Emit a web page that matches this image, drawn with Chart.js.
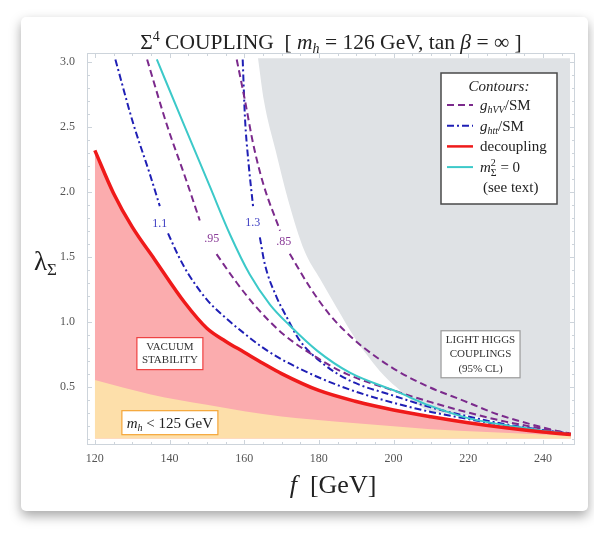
<!DOCTYPE html>
<html>
<head>
<meta charset="utf-8">
<script src="https://cdn.jsdelivr.net/npm/chart.js@4.4.0/dist/chart.umd.min.js"></script>
<style>
  html, body { margin: 0; padding: 0; background: #fff; overflow: hidden; }
  #tarjeta { position: absolute; left: 21px; top: 17px; width: 567px; height: 494px; background: #fff; border-radius: 5px; box-shadow: 0 5px 12px rgba(0,0,0,0.35); }
  #grafico { position: absolute; left: 0; top: 0; }
</style>
</head>
<body>
<div id="tarjeta"></div>
<canvas id="grafico" width="594" height="537"></canvas>
<script>
// ticks de los ejes
const ticksF = [120, 140, 160, 180, 200, 220, 240];
const ticksLambda = [0.5, 1.0, 1.5, 2.0, 2.5, 3.0];

// curva de decoupling (roja)
const fDecoupling = [120, 125, 130, 136, 144, 150, 155, 160, 165, 170, 180, 190, 200, 210, 220, 230, 240, 247.5];
const lambdaDecoupling = [2.32, 1.99, 1.73, 1.48, 1.15, 0.95, 0.85, 0.765, 0.68, 0.60, 0.47, 0.385, 0.32, 0.268, 0.222, 0.183, 0.15, 0.13];

// borde superior de la zona m_h < 125 GeV
const fMh = [120, 135, 150, 160, 170, 185, 200, 210, 225, 237, 247.5];
const lambdaMh = [0.55, 0.44, 0.36, 0.31, 0.27, 0.23, 0.195, 0.172, 0.15, 0.135, 0.12];

// borde de la zona excluida (light higgs couplings)
const fExcluido = [163.7, 165.3, 168.4, 171.8, 176.1, 180.3, 184.7, 190.1, 193, 196.3, 200.8, 206.2, 210, 220, 230, 240, 247.3];
const lambdaExcluido = [3.03, 2.70, 2.32, 1.934, 1.548, 1.33, 1.111, 0.854, 0.74, 0.621, 0.494, 0.366, 0.31, 0.28, 0.22, 0.17, 0.14];

// m_sigma^2 = 0 (cian)
const fMsigma = [136.6, 143.6, 150.8, 156.2, 161.5, 166.9, 172.2, 179.5, 188.3, 200.9, 209.7, 220.5, 236.5, 247.5];
const lambdaMsigma = [3.02, 2.535, 2.042, 1.672, 1.363, 1.132, 0.97, 0.777, 0.607, 0.461, 0.353, 0.253, 0.176, 0.132];

// g_hVV/SM = .95 y .85 (violeta, con hueco para la etiqueta)
const fHVV95 = [134, 139.2, 144.5, 148.1, 150.3, 152.6, 158, 163.3, 170.4, 179.4, 187.4, 200, 210, 220, 230, 240, 247];
const lambdaHVV95 = [3.02, 2.525, 2.088, 1.78, null, 1.52, 1.30, 1.11, 0.906, 0.725, 0.598, 0.47, 0.38, 0.30, 0.23, 0.175, 0.14];
const fHVV85 = [158, 160.2, 162.4, 165.1, 169.6, 171, 172.2, 177.6, 183, 188, 192, 200.8, 209.7, 218.7, 227.6, 236.5, 245.5, 247.5];
const lambdaHVV85 = [3.02, 2.705, 2.371, 2.062, 1.702, null, 1.523, 1.265, 1.05, 0.90, 0.80, 0.625, 0.494, 0.392, 0.289, 0.212, 0.147, 0.138];

// g_htt/SM = 1.1 y 1.3 (azul)
const fHtt11 = [125.5, 130.3, 134.7, 137.4, 138.5, 139.6, 142.5, 145, 150, 155, 160, 165, 170, 180, 190, 200, 210, 220, 230, 240, 247];
const lambdaHtt11 = [3.02, 2.525, 2.14, 1.89, null, 1.68, 1.50, 1.37, 1.17, 1.03, 0.91, 0.80, 0.71, 0.57, 0.46, 0.375, 0.305, 0.25, 0.2, 0.16, 0.135];
const fHtt13 = [159.6, 160.2, 161.1, 162.4, 163.3, 164.2, 165.5, 168.7, 171.4, 174.9, 181.2, 188.3, 200, 210, 220, 230, 240, 247];
const lambdaHtt13 = [3.02, 2.576, 2.242, 1.882, null, 1.65, 1.446, 1.188, 1.034, 0.854, 0.675, 0.546, 0.43, 0.34, 0.27, 0.21, 0.165, 0.14];

const ROJO = '#ef1a1a';
const CIAN = '#3cc9c9';
const VIOLETA = '#7b2a8c';
const AZUL = '#1f1fb5';

function puntos(fs, ls) {
  return fs.map((f, i) => ({ x: f, y: ls[i] }));
}

function fuente(tam, italica) {
  return (italica ? 'italic ' : '') + tam + 'px "Liberation Serif", "DejaVu Serif", serif';
}

// tramos: [texto, tam, italica, dy, sinAvance]
function dibujarTramos(ctx, tramos, x, y, alineacion) {
  let ancho = 0;
  tramos.forEach(t => {
    ctx.font = fuente(t[1], t[2]);
    if (!t[4]) ancho += ctx.measureText(t[0]).width;
  });
  let xi = alineacion === 'center' ? x - ancho / 2 : (alineacion === 'right' ? x - ancho : x);
  ctx.textAlign = 'left';
  ctx.textBaseline = 'alphabetic';
  tramos.forEach(t => {
    ctx.font = fuente(t[1], t[2]);
    ctx.fillText(t[0], xi, y + (t[3] || 0));
    if (!t[4]) xi += ctx.measureText(t[0]).width;
  });
}

// etiquetas de los contornos, en coordenadas de datos
const etiquetasContorno = [
  { texto: '1.1', f: 137.4, l: 1.756, color: '#3d3dc2' },
  { texto: '.95', f: 151.3, l: 1.641, color: '#8a3c98' },
  { texto: '1.3', f: 162.3, l: 1.764, color: '#3d3dc2' },
  { texto: '.85', f: 170.6, l: 1.618, color: '#8a3c98' }
];

const cajas = [
  { f: 140.1, l: 0.754, ancho: 66, alto: 32, borde: '#ee4040', lineas: ['VACUUM', 'STABILITY'], tam: 11, interlinea: 13.3 },
  { f: 223.3, l: 0.749, ancho: 79, alto: 47, borde: '#9a9a9a', lineas: ['LIGHT HIGGS', 'COUPLINGS', '(95% CL)'], tam: 11, interlinea: 14.5 }
];

const pluginMarco = {
  id: 'marco',
  afterDatasetsDraw(chart) {
    const ctx = chart.ctx;
    const ca = chart.chartArea;
    const sx = chart.scales.x, sy = chart.scales.y;
    ctx.save();
    ctx.strokeStyle = '#cdd4db';
    ctx.lineWidth = 1;
    ctx.strokeRect(ca.left + 0.5, ca.top + 0.5, ca.right - ca.left - 1, ca.bottom - ca.top - 1);
    ctx.beginPath();
    for (let v = 120; v <= 245; v += 5) {
      const px = Math.round(sx.getPixelForValue(v)) + 0.5;
      const largo = v % 20 === 0 ? 5 : 3;
      ctx.moveTo(px, ca.bottom); ctx.lineTo(px, ca.bottom - largo);
      ctx.moveTo(px, ca.top); ctx.lineTo(px, ca.top + largo);
    }
    for (let k = 1; k <= 30; k++) {
      const v = k / 10;
      const py = Math.round(sy.getPixelForValue(v)) + 0.5;
      const largo = k % 5 === 0 ? 5 : 3;
      ctx.moveTo(ca.left, py); ctx.lineTo(ca.left + largo, py);
      ctx.moveTo(ca.right, py); ctx.lineTo(ca.right - largo, py);
    }
    ctx.stroke();
    ctx.restore();
  }
};

const pluginTextos = {
  id: 'textos',
  afterDraw(chart) {
    const ctx = chart.ctx;
    const ca = chart.chartArea;
    const sx = chart.scales.x, sy = chart.scales.y;
    ctx.save();
    ctx.fillStyle = '#222';

    // titulo
    dibujarTramos(ctx, [
      ['\u03A3', 21.5], ['4', 14, false, -8], [' COUPLING  [ ', 21.5], ['m', 21.5, true], ['h', 14, true, 4],
      [' = 126 GeV, tan ', 21.5], ['\u03B2', 21.5, true], [' = \u221E ]', 21.5]
    ], 331, 49, 'center');

    // titulos de ejes
    dibujarTramos(ctx, [['f', 26, true], ['  [GeV]', 26]], 333, 493, 'center');
    dibujarTramos(ctx, [['\u03BB', 27], ['\u03A3', 17, false, 5]], 34, 270, 'left');

    // etiquetas de contornos
    etiquetasContorno.forEach(e => {
      ctx.fillStyle = e.color;
      ctx.font = fuente(12);
      ctx.textAlign = 'center';
      ctx.textBaseline = 'middle';
      ctx.fillText(e.texto, sx.getPixelForValue(e.f), sy.getPixelForValue(e.l));
    });

    // cajas de texto
    cajas.forEach(c => {
      const cx = sx.getPixelForValue(c.f), cy = sy.getPixelForValue(c.l);
      ctx.fillStyle = '#fff';
      ctx.fillRect(cx - c.ancho / 2, cy - c.alto / 2, c.ancho, c.alto);
      ctx.strokeStyle = c.borde;
      ctx.lineWidth = 1.2;
      ctx.strokeRect(cx - c.ancho / 2, cy - c.alto / 2, c.ancho, c.alto);
      ctx.fillStyle = '#333';
      ctx.font = fuente(c.tam);
      ctx.textAlign = 'center';
      ctx.textBaseline = 'middle';
      const y0 = cy - (c.lineas.length - 1) * c.interlinea / 2;
      c.lineas.forEach((t, i) => ctx.fillText(t, cx, y0 + i * c.interlinea));
    });

    // caja m_h < 125 GeV
    const mx = sx.getPixelForValue(140.1), my = sy.getPixelForValue(0.222);
    ctx.fillStyle = '#fff';
    ctx.fillRect(mx - 48, my - 12, 96, 24);
    ctx.strokeStyle = '#f5a537';
    ctx.lineWidth = 1.2;
    ctx.strokeRect(mx - 48, my - 12, 96, 24);
    ctx.fillStyle = '#222';
    dibujarTramos(ctx, [['m', 15, true], ['h', 10, true, 3], [' < 125 GeV', 15]], mx, my + 5, 'center');

    // leyenda
    const lx = ca.right - 134, ly = ca.top + 20, lw = 116, lh = 131;
    ctx.fillStyle = '#fff';
    ctx.fillRect(lx, ly, lw, lh);
    ctx.strokeStyle = '#4a4a4a';
    ctx.lineWidth = 1.5;
    ctx.strokeRect(lx, ly, lw, lh);
    ctx.fillStyle = '#222';
    dibujarTramos(ctx, [['Contours:', 15, true]], lx + lw / 2, ly + 18, 'center');
    const filas = [
      { ds: chart.data.datasets[2], tramos: [['g', 15, true], ['hVV', 10, true, 3], ['/SM', 15]] },
      { ds: chart.data.datasets[5], tramos: [['g', 15, true], ['htt', 10, true, 3], ['/SM', 15]] },
      { ds: chart.data.datasets[0], tramos: [['decoupling', 15]] },
      { ds: chart.data.datasets[1], tramos: [['m', 15, true], ['2', 10, false, -6, true], ['\u03A3', 10, false, 4], [' = 0', 15]] }
    ];
    filas.forEach((fila, i) => {
      const yc = ly + 32 + i * 20.7;
      ctx.strokeStyle = fila.ds.borderColor;
      ctx.lineWidth = Math.min(fila.ds.borderWidth, 2.5);
      ctx.setLineDash(fila.ds.borderDash || []);
      ctx.beginPath();
      ctx.moveTo(lx + 6, yc);
      ctx.lineTo(lx + 32, yc);
      ctx.stroke();
      ctx.setLineDash([]);
      ctx.fillStyle = '#222';
      dibujarTramos(ctx, fila.tramos, lx + 39, yc + 5, 'left');
    });
    dibujarTramos(ctx, [['(see text)', 15]], lx + 42, ly + 114.3 + 5, 'left');

    ctx.restore();
  }
};

const lineaBase = { pointRadius: 0, fill: false, spanGaps: false, cubicInterpolationMode: 'monotone' };

const datasets = [
  Object.assign({ label: 'decoupling', data: puntos(fDecoupling, lambdaDecoupling), borderColor: ROJO, borderWidth: 3.5 }, lineaBase),
  Object.assign({ label: 'm2 = 0', data: puntos(fMsigma, lambdaMsigma), borderColor: CIAN, borderWidth: 2 }, lineaBase),
  Object.assign({ label: 'ghVV .85', data: puntos(fHVV85, lambdaHVV85), borderColor: VIOLETA, borderWidth: 2, borderDash: [7, 4] }, lineaBase),
  Object.assign({ label: 'ghVV .95', data: puntos(fHVV95, lambdaHVV95), borderColor: VIOLETA, borderWidth: 2, borderDash: [7, 4] }, lineaBase),
  Object.assign({ label: 'ghtt 1.3', data: puntos(fHtt13, lambdaHtt13), borderColor: AZUL, borderWidth: 2, borderDash: [7, 3, 2, 3] }, lineaBase),
  Object.assign({ label: 'ghtt 1.1', data: puntos(fHtt11, lambdaHtt11), borderColor: AZUL, borderWidth: 2, borderDash: [7, 3, 2, 3] }, lineaBase),
  { label: 'mh<125', data: puntos(fMh, lambdaMh), borderColor: 'transparent', borderWidth: 0, pointRadius: 0, backgroundColor: 'rgb(253,223,170)', fill: { value: 0.1 }, cubicInterpolationMode: 'monotone' },
  { label: 'vacuum', data: puntos(fDecoupling, lambdaDecoupling), borderColor: 'transparent', borderWidth: 0, pointRadius: 0, backgroundColor: 'rgb(251,172,174)', fill: { value: 0.1 }, cubicInterpolationMode: 'monotone' },
  { label: 'excluido', data: puntos(fExcluido, lambdaExcluido), borderColor: 'transparent', borderWidth: 0, pointRadius: 0, backgroundColor: 'rgb(223,226,229)', fill: { value: 3.03 }, cubicInterpolationMode: 'monotone' }
];

const ctx = document.getElementById('grafico').getContext('2d');
new Chart(ctx, {
  type: 'line',
  data: { datasets: datasets },
  options: {
    responsive: false,
    animation: false,
    layout: { padding: { top: 53, right: 19, left: 0, bottom: 0 } },
    plugins: {
      legend: { display: false },
      tooltip: { enabled: false },
      filler: { drawTime: 'beforeDatasetsDraw' }
    },
    scales: {
      x: {
        type: 'linear',
        min: 117.9,
        max: 248.6,
        grid: { display: false, drawTicks: false },
        border: { display: false },
        ticks: { color: '#555', font: { family: '"Liberation Serif", serif', size: 12 }, padding: 7, callback: v => String(v) },
        afterBuildTicks: s => { s.ticks = ticksF.map(v => ({ value: v })); },
        afterFit: s => { s.height = 92; }
      },
      y: {
        type: 'linear',
        min: 0.05,
        max: 3.07,
        grid: { display: false, drawTicks: false },
        border: { display: false },
        ticks: { color: '#555', font: { family: '"Liberation Serif", serif', size: 12 }, padding: 12, callback: v => v.toFixed(1) },
        afterBuildTicks: s => { s.ticks = ticksLambda.map(v => ({ value: v })); },
        afterFit: s => { s.width = 87; }
      }
    }
  },
  plugins: [pluginMarco, pluginTextos]
});
</script>
</body>
</html>
